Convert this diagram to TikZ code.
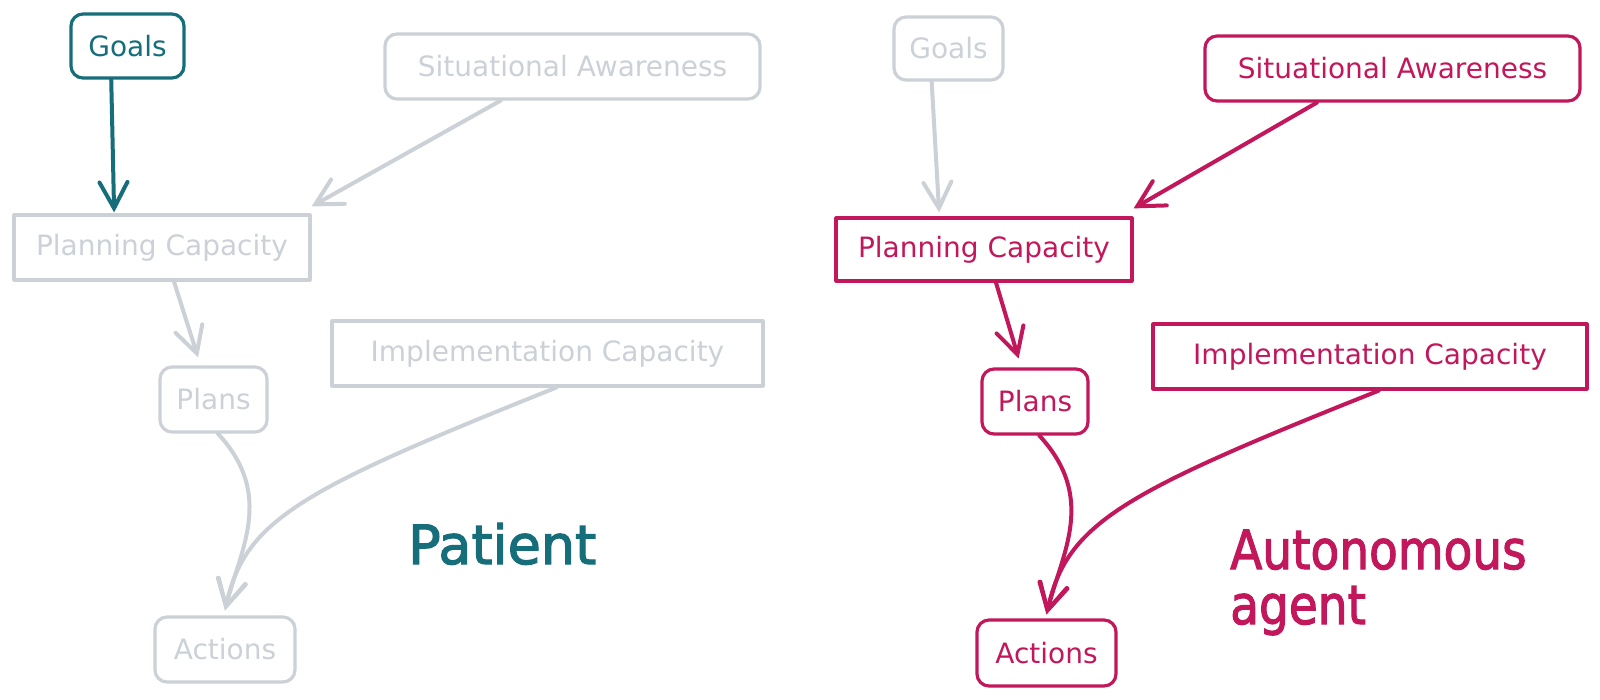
\documentclass[tikz,border=0pt]{standalone}
\usepackage{fontspec}
\setmainfont{DejaVu Sans}
\newfontfamily\bigfont[FakeBold=2.2]{DejaVu Sans}
\usetikzlibrary{arrows.meta,calc}
\definecolor{tealc}{HTML}{166E7A}
\definecolor{crim}{HTML}{C2185B}
\definecolor{greyc}{HTML}{CBD1D7}
\begin{document}
\begin{tikzpicture}[x=1pt,y=-1pt,
  box/.style={draw=#1, text=#1, line width=3.2pt, inner sep=0pt, line join=round,
    font=\fontsize{28}{32}\selectfont},
  rbox/.style={box=#1, rounded corners=12pt},
  conn/.style={draw=#1, line width=4pt, line cap=round, line join=round,
    -{Straight Barb[length=26pt,width=28pt,line cap=round]}},
  big/.style={text=#1, font=\bigfont\fontsize{54}{55}\selectfont, inner sep=0pt}]
\useasboundingbox (0,0) rectangle (1600,699);
\fill[white] (0,0) rectangle (1600,699);

% ---------- left: Patient ----------
\node[rbox=tealc, minimum width=113pt, minimum height=64pt] (goalsL) at (127.5,46) {Goals};
\node[rbox=greyc, minimum width=375pt, minimum height=65pt] (saL) at (572.5,66.5) {Situational Awareness};
\node[box=greyc, minimum width=296pt, minimum height=65pt] (planL) at (162,247.5) {Planning Capacity};
\node[box=greyc, minimum width=431pt, minimum height=65pt] (implL) at (547.5,353.5) {Implementation Capacity};
\node[rbox=greyc, minimum width=107pt, minimum height=65pt] (plansL) at (213.5,399.5) {Plans};
\node[rbox=greyc, minimum width=140pt, minimum height=65pt] (actL) at (225,649.5) {Actions};

\draw[conn=tealc] ($(goalsL.south west)!0.36!(goalsL.south east)$) -- ([yshift=1pt]$(planL.north west)!0.34!(planL.north east)$);
\draw[conn=greyc] ($(saL.south west)!0.31!(saL.south east)$) -- ([yshift=7pt]planL.north east);
\draw[conn=greyc] ($(planL.south west)!0.54!(planL.south east)$) -- ([yshift=8pt]$(plansL.north west)!0.36!(plansL.north east)$);
\draw[conn=greyc] ($(plansL.south west)!0.54!(plansL.south east)$) .. controls (275,495) and (240,550) .. ([yshift=5pt]actL.north);
\draw[conn=greyc] ($(implL.south west)!0.52!(implL.south east)$) .. controls (300,490) and (245,520) .. ([yshift=5pt]actL.north);

\node[big=tealc, anchor=base west] (patient) at (408,564) {Patient};

% ---------- right: Autonomous agent ----------
\node[rbox=greyc, minimum width=109pt, minimum height=63pt] (goalsR) at (948.5,48.5) {Goals};
\node[rbox=crim, minimum width=375pt, minimum height=65pt] (saR) at (1392.5,68.5) {Situational Awareness};
\node[box=crim, minimum width=296pt, minimum height=63pt] (planR) at (984,249.5) {Planning Capacity};
\node[box=crim, minimum width=434pt, minimum height=65pt] (implR) at (1370,356.5) {Implementation Capacity};
\node[rbox=crim, minimum width=106pt, minimum height=65pt] (plansR) at (1035,401.5) {Plans};
\node[rbox=crim, minimum width=139pt, minimum height=66pt] (actR) at (1046.5,653) {Actions};

\draw[conn=greyc] ($(goalsR.south west)!0.35!(goalsR.south east)$) -- ([yshift=4pt]$(planR.north west)!0.35!(planR.north east)$);
\draw[conn=crim] ($(saR.south west)!0.30!(saR.south east)$) -- ([yshift=8pt]planR.north east);
\draw[conn=crim] ($(planR.south west)!0.54!(planR.south east)$) -- ([yshift=9pt]$(plansR.north west)!0.35!(plansR.north east)$);
\draw[conn=crim] ($(plansR.south west)!0.54!(plansR.south east)$) .. controls (1097,498) and (1062,553) .. ([yshift=4pt]actR.north);
\draw[conn=crim] ($(implR.south west)!0.52!(implR.south east)$) .. controls (1122,493) and (1067,523) .. ([yshift=4pt]actR.north);

\node[big=crim, anchor=base west, align=left] (agent) at (1230,624) {\scalebox{0.87}[1]{Autonomous}\\\scalebox{0.87}[1]{agent}};
\end{tikzpicture}
\end{document}
